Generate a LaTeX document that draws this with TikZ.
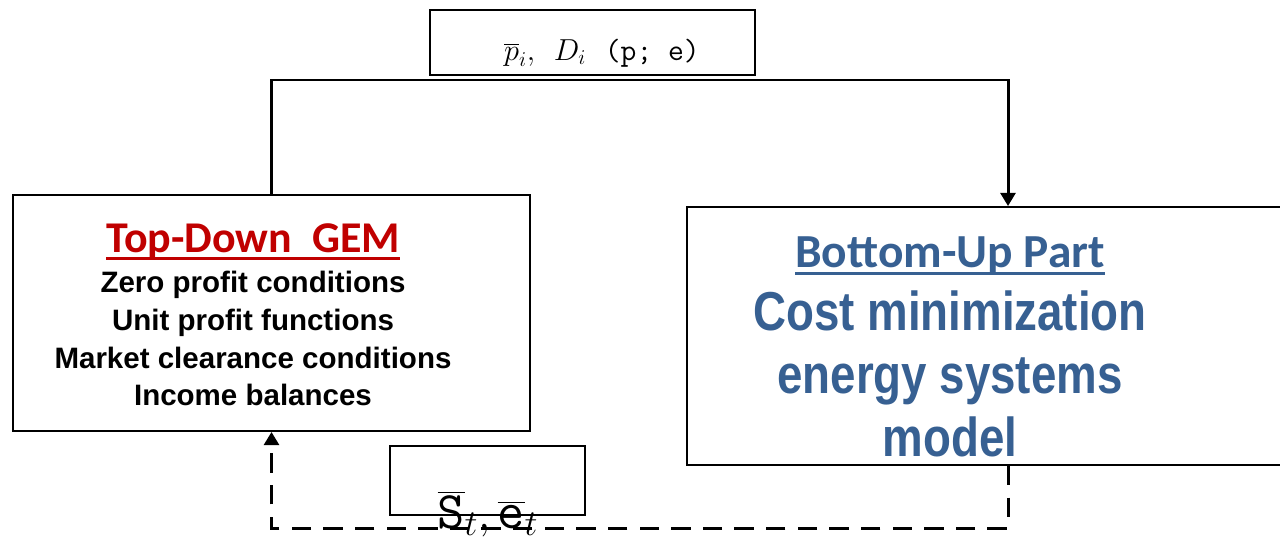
\documentclass[tikz,border=0pt]{standalone}
\usepackage{graphicx}
\usepackage{fontspec}
\setmainfont{Liberation Sans}
\newfontfamily\calfont{Carlito}
\usetikzlibrary{arrows.meta, positioning}
\definecolor{gemred}{RGB}{192,0,0}
\definecolor{bublue}{RGB}{55,96,146}
\newcommand\thickul[1]{\setbox0=\hbox{#1}\rlap{\rule[-0.17em]{\wd0}{0.065em}}\box0}
\newcommand\tallline[1]{\scalebox{1}[1.2]{#1}}

\begin{document}
\begin{tikzpicture}[
    x=0.02cm, y=-0.02cm,
    box/.style={draw, line width=1.1pt, inner sep=0pt},
    boxtext/.style={align=center, inner sep=0pt},
    arr/.style={-{Triangle[width=8.5pt,length=7.5pt]}, line width=1.7pt},
    darr/.style={arr, dash pattern=on 11pt off 7pt}
  ]
    \useasboundingbox (0,0) rectangle (1280,541);
    \node[box, minimum width=10.34cm, minimum height=4.72cm] (td) at (271.5,313) {};
    \node[boxtext, font=\bfseries\fontsize{16.8}{21.5}\selectfont] (tdtext) at (253,315)
      {{\calfont\fontsize{25}{30}\selectfont\color{gemred}\thickul{Top-Down\ \ GEM}}\\[1.2pt]
       Zero profit conditions\\
       Unit profit functions\\
       Market clearance conditions\\
       Income balances};
    \node[box, minimum width=12.06cm, minimum height=5.16cm] (bu) at (988.5,336) {};
    \node[boxtext, text=bublue, font=\bfseries\fontsize{26}{36}\selectfont] (butext) at (950,347)
      {{\calfont\fontsize{27}{32}\selectfont\thickul{Bottom-Up Part}}\\
       \tallline{Cost minimization}\\
       \tallline{energy systems}\\
       \tallline{model}};
    \node[box, minimum width=6.5cm, minimum height=1.3cm] (pbox) at (592.5,42.5) {};
    \node[anchor=base, inner sep=0pt, font=\fontsize{17.5}{21}\selectfont] (ptext) at (602,60)
      {$\overline{p}_{i},\;\,D_{i}$\hspace{0.6em}\texttt{(p; e)}};
    \node[box, minimum width=3.9cm, minimum height=1.38cm] (sbox) at (487.5,480.5) {};
    \node[anchor=base, inner sep=0pt, font=\fontsize{30}{36}\selectfont] (stext) at (488,528)
      {$\overline{\texttt{S}}_{t},\overline{\texttt{e}}_{t}$};
    \coordinate (topbend) at (1008,80);
    \coordinate (botbend) at (1008,528);
    \draw[arr] (td.north) |- (topbend) -- (topbend |- bu.north);
    \draw[darr] (botbend |- bu.south) -- (botbend) -| (td.south);
  \end{tikzpicture}
\end{document}
